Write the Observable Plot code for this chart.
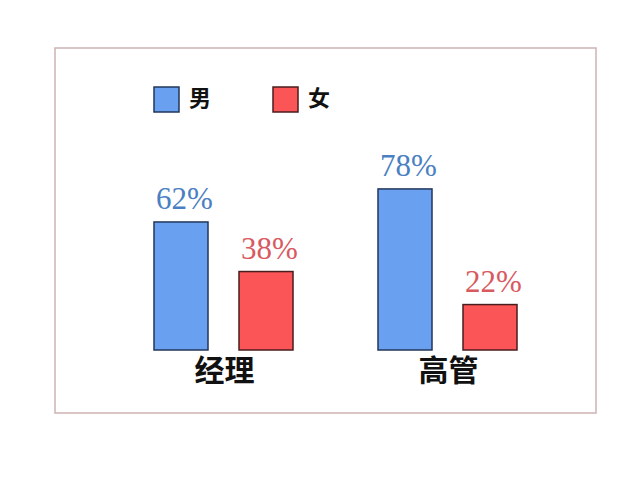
<!DOCTYPE html>
<html>
<head>
<meta charset="utf-8">
<script src="https://cdn.jsdelivr.net/npm/d3@7"></script>
<script src="https://cdn.jsdelivr.net/npm/@observablehq/plot@0.6"></script>
<style>
  html, body { margin: 0; padding: 0; background: #fff; }
  #chart { width: 640px; height: 487px; }
</style>
</head>
<body>
<div id="chart"></div>
<script>
const categories = ["经理", "高管"];
const genders = ["男", "女"];
const male = [62, 78];
const female = [38, 22];

const fillColors = ["#6aa0f0", "#fb5558"];
const strokeColors = ["#22375a", "#4a1c1c"];
const textColors = ["#4a80c2", "#d75a5f"];

const data = [];
categories.forEach((c, i) => {
  data.push({category: c, gender: genders[0], value: male[i]});
  data.push({category: c, gender: genders[1], value: female[i]});
});

const plot = Plot.plot({
  width: 640,
  height: 487,
  marginLeft: 153,
  marginRight: 121,
  marginTop: 143.5,
  marginBottom: 137,
  style: {background: "transparent", overflow: "visible"},
  fx: {domain: categories, paddingInner: 0.373, paddingOuter: 0, axis: null},
  x: {domain: genders, paddingInner: 0.36, paddingOuter: 0, axis: null},
  y: {domain: [0, 100], axis: null},
  color: {domain: genders, range: fillColors},
  marks: [
    Plot.barY(data, {
      fx: "category", x: "gender", y: "value",
      fill: "gender",
      stroke: d => strokeColors[genders.indexOf(d.gender)],
      strokeWidth: 1.5
    }),
    Plot.text(data, {
      fx: "category", x: "gender", y: "value",
      text: d => d.value + "%",
      fill: d => textColors[genders.indexOf(d.gender)],
      fontFamily: "Liberation Serif",
      fontSize: 31,
      lineAnchor: "bottom",
      dx: 3,
      dy: -13
    }),
    Plot.text(categories, {
      fx: d => d,
      text: d => d,
      frameAnchor: "bottom",
      lineAnchor: "top",
      dy: 9,
      fontFamily: "Noto Sans CJK SC",
      fontWeight: "bold",
      fontSize: 30,
      fill: "#111"
    })
  ]
});

const svg = d3.select(plot);
// border frame
svg.insert("rect", ":first-child")
  .attr("x", 55).attr("y", 48).attr("width", 541).attr("height", 365)
  .attr("fill", "none").attr("stroke", "#cdb3b3").attr("stroke-width", 1.5);

// legend
const color = plot.scale("color");
const legendX = [154, 273];
const lg = svg.append("g");
genders.forEach((g, i) => {
  lg.append("rect")
    .attr("x", legendX[i]).attr("y", 87).attr("width", 25).attr("height", 25)
    .attr("fill", color.range[i]).attr("stroke", strokeColors[i]).attr("stroke-width", 1.5);
  lg.append("text")
    .attr("x", legendX[i] + 35).attr("y", 100)
    .attr("text-anchor", "start")
    .attr("dominant-baseline", "middle")
    .attr("font-family", "Noto Sans CJK SC")
    .attr("font-weight", "bold")
    .attr("font-size", 22)
    .attr("fill", "#111")
    .text(g);
});

document.getElementById("chart").appendChild(plot);
</script>
</body>
</html>
